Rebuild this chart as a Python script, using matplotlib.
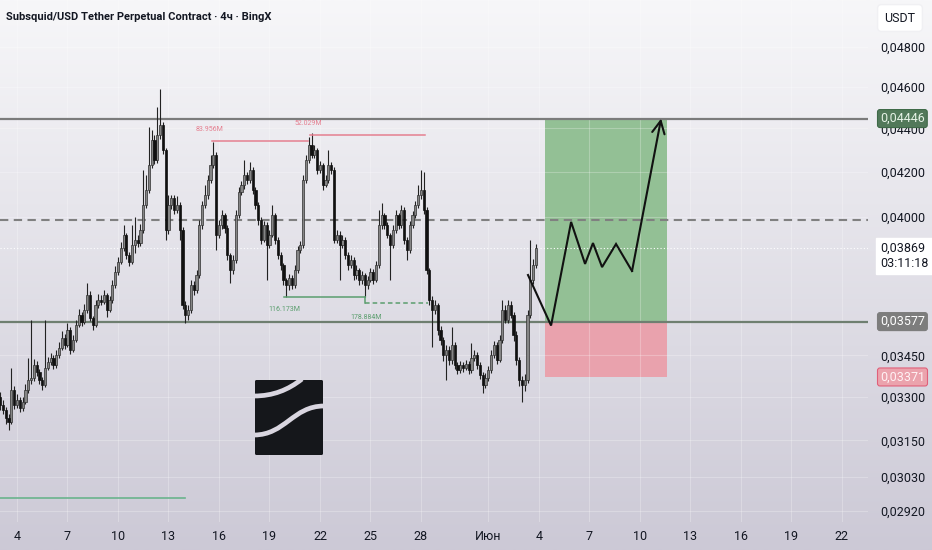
import numpy as np
import pandas as pd
import matplotlib
matplotlib.use("Agg")
import matplotlib.pyplot as plt
import matplotlib.dates as mdates
import matplotlib.transforms as mtransforms
from matplotlib.patches import Rectangle, FancyBboxPatch, PathPatch
from matplotlib.path import Path
from matplotlib.ticker import FixedLocator, FuncFormatter, NullLocator

plt.rcParams['font.family'] = ['Roboto', 'DejaVu Sans']

# --- datos: velas de 4h, precios en 1e-5 USDT ---
start = "2025-05-03 00:00"
first_open = 3300
closes = [
    3272, 3254, 3226, 3212, 3324, 3271, 3289, 3261, 3282, 3324,
    3360, 3367, 3414, 3389, 3360, 3342, 3403, 3425, 3440, 3414,
    3451, 3477, 3515, 3488, 3545, 3470, 3507, 3564, 3602, 3575,
    3622, 3680, 3591, 3564, 3641, 3661, 3653, 3680, 3622, 3661,
    3720, 3772, 3813, 3870, 3925, 3841, 3813, 3883, 3904, 3891,
    3946, 4052, 4118, 4230, 4345, 4253, 4368, 4415, 4299, 3946,
    4052, 4083, 4031, 4052, 3946, 3641, 3602, 3622, 3720, 3700,
    3760, 3967, 4052, 4096, 4163, 4230, 4276, 3925, 3967, 4009,
    3954, 3841, 3780, 3821, 4009, 4109, 4140, 4185, 4163, 4207,
    4118, 4052, 3988, 3904, 3967, 3883, 3925, 4009, 3904, 3841,
    3800, 3740, 3720, 3748, 3720, 3780, 3862, 3883, 4163, 4253,
    4322, 4276, 4299, 4207, 4230, 4140, 4163, 4230, 4207, 3904,
    3925, 3883, 3904, 3841, 3800, 3821, 3760, 3780, 3740, 3760,
    3720, 3740, 3772, 3740, 3800, 3967, 4009, 3967, 3925, 3883,
    3946, 4009, 3967, 4031, 3904, 3862, 3967, 4009, 4052, 4096,
    4118, 4031, 3780, 3661, 3622, 3641, 3545, 3507, 3451, 3470,
    3433, 3488, 3414, 3396, 3414, 3403, 3418, 3396, 3440, 3451,
    3414, 3378, 3342, 3367, 3396, 3451, 3488, 3433, 3507, 3622,
    3583, 3641, 3602, 3526, 3433, 3360, 3342, 3360, 3602, 3740,
    3800, 3869,
]
highs = [
    3318, 3290, 3265, 3240, 3403, 3340, 3310, 3300, 3298, 3345,
    3440, 3583, 3435, 3430, 3400, 3370, 3583, 3445, 3458, 3450,
    3470, 3500, 3540, 3530, 3570, 3555, 3525, 3585, 3625, 3615,
    3645, 3728, 3695, 3600, 3660, 3685, 3680, 3700, 3690, 3675,
    3740, 3795, 3835, 3895, 3967, 3935, 3855, 3967, 4000, 3925,
    3970, 4207, 4185, 4406, 4392, 4368, 4501, 4589, 4430, 4310,
    4096, 4096, 4095, 4090, 4065, 3960, 3655, 3640, 3740, 3735,
    3780, 3990, 4070, 4140, 4185, 4276, 4336, 4290, 3990, 4030,
    4020, 3965, 3850, 3840, 4030, 4130, 4160, 4253, 4200, 4245,
    4220, 4130, 4065, 4000, 3985, 3980, 3945, 4052, 4020, 3915,
    3855, 3810, 3750, 3765, 3760, 3800, 3880, 3900, 4185, 4275,
    4359, 4377, 4320, 4310, 4250, 4240, 4185, 4299, 4245, 4220,
    3945, 3940, 3925, 3915, 3855, 3840, 3835, 3800, 3790, 3775,
    3770, 3755, 3790, 3785, 3815, 4031, 4061, 4020, 3980, 3935,
    3965, 4030, 4020, 4052, 4045, 3915, 3985, 4025, 4070, 4140,
    4207, 4198, 4045, 3790, 3675, 3660, 3650, 3560, 3520, 3488,
    3485, 3556, 3500, 3425, 3430, 3425, 3432, 3430, 3496, 3470,
    3462, 3425, 3390, 3385, 3410, 3470, 3505, 3500, 3525, 3661,
    3640, 3661, 3655, 3615, 3540, 3445, 3375, 3380, 3620, 3904,
    3825, 3885,
]
lows = [
    3255, 3240, 3205, 3185, 3205, 3258, 3260, 3248, 3250, 3275,
    3315, 3345, 3355, 3375, 3345, 3325, 3335, 3395, 3415, 3400,
    3405, 3440, 3468, 3475, 3480, 3455, 3462, 3500, 3555, 3560,
    3568, 3610, 3580, 3545, 3555, 3630, 3640, 3645, 3595, 3615,
    3650, 3710, 3760, 3805, 3860, 3825, 3795, 3805, 3850, 3875,
    3880, 3935, 4040, 4105, 4215, 4235, 4240, 4350, 4280, 3904,
    3930, 4035, 4015, 4020, 3904, 3625, 3572, 3585, 3610, 3680,
    3690, 3750, 3950, 4040, 4080, 4150, 4215, 3862, 3910, 3950,
    3935, 3820, 3728, 3765, 3810, 3995, 4095, 4125, 4145, 4150,
    4100, 4035, 3965, 3885, 3895, 3740, 3870, 3915, 3885, 3825,
    3780, 3720, 3673, 3700, 3705, 3710, 3770, 3850, 3870, 4150,
    4240, 4260, 4260, 4190, 4195, 4118, 4130, 4150, 4190, 3890,
    3890, 3740, 3870, 3825, 3780, 3790, 3740, 3745, 3720, 3725,
    3673, 3705, 3730, 3725, 3730, 3790, 3950, 3950, 3910, 3740,
    3870, 3935, 3950, 3955, 3885, 3821, 3850, 3955, 3995, 4040,
    4080, 4015, 3765, 3640, 3481, 3605, 3525, 3490, 3430, 3360,
    3415, 3420, 3400, 3380, 3385, 3390, 3395, 3382, 3385, 3430,
    3400, 3362, 3313, 3330, 3355, 3385, 3440, 3420, 3425, 3495,
    3570, 3570, 3590, 3505, 3415, 3340, 3282, 3320, 3350, 3590,
    3725, 3790,
]
assert len(closes) == len(highs) == len(lows) == 192

# niveles y herramienta de posición
resistance = 0.04446
mid_level = 0.03990
support = 0.03577
stop_level = 0.03371
last_price = 0.03869
pos_start, pos_end = "2025-06-04 09:00", "2025-06-11 15:00"

# dibujo del escenario (días desde 1 de mayo, precio)
path_days = [33.36, 34.73, 35.92, 36.75, 37.22, 37.76, 38.59, 39.54, 41.27]
path_prices = [0.03760, 0.03562, 0.03980, 0.03805, 0.03891, 0.03792, 0.03887, 0.03776, 0.04446]

# marcas de volumen: (inicio, fin en días, precio) y textos (día, precio, texto)
vol_highs = [(14.59, 20.29, 0.04340), (20.41, 27.24, 0.04368)]
vol_high_labels = [(14.43, 0.04396, "83.956M"), (20.32, 0.04423, "52.029M")]
vol_lows = [(18.86, 23.68, 0.03673), (23.68, 27.42, 0.03649)]
vol_low_labels = [(18.86, 0.03622, "116.173M"), (23.74, 0.03594, "178.884M")]
bottom_line = (1.99, 12.98, 0.02960)

yticks = [0.048, 0.046, 0.044, 0.042, 0.040, 0.0345, 0.033, 0.0315, 0.0303, 0.0292]
xtick_days = [3, 6, 9, 12, 15, 18, 21, 24, 27, 31, 34, 37, 40, 43, 46, 49, 52]
xtick_labels = ["4", "7", "10", "13", "16", "19", "22", "25", "28", "Июн",
                "4", "7", "10", "13", "16", "19", "22"]

# --- preparar ---
scale = 1e-5
c = np.array(closes) * scale
h = np.array(highs) * scale
l = np.array(lows) * scale
o = np.concatenate([[first_open * scale], c[:-1]])
times = pd.date_range(start, periods=len(c), freq="4h")
x = mdates.date2num(times)
base = mdates.date2num(pd.Timestamp("2025-05-01"))

W, H = 932, 550
fig = plt.figure(figsize=(W / 100, H / 100), dpi=100)

# fondo degradado
bg = fig.add_axes([0, 0, 1, 1], zorder=-10)
top = np.array([247, 247, 249]) / 255
bot = np.array([204, 201, 214]) / 255
t = np.linspace(0, 1, 256)[:, None]
grad = top[None, :] * (1 - t) + bot[None, :] * t
bg.imshow(grad[:, None, :], aspect="auto", extent=[0, 1, 0, 1])
bg.axis("off")

ax = fig.add_axes([0, 28 / H, 868 / W, 1 - 28 / H])
ax.set_facecolor("none")
ax.set_yscale("log")
ax.set_ylim(0.02886, 0.05048)
ax.set_xlim(base + 1.99, base + 53.56)
for s in ax.spines.values():
    s.set_visible(False)

ax.grid(True, color="white", alpha=0.25, lw=0.8)

# posición larga
x0, x1 = mdates.date2num(pd.Timestamp(pos_start)), mdates.date2num(pd.Timestamp(pos_end))
ax.add_patch(Rectangle((x0, support), x1 - x0, resistance - support,
                       facecolor="#93c095", edgecolor="none", zorder=1))
ax.add_patch(Rectangle((x0, stop_level), x1 - x0, support - stop_level,
                       facecolor="#e9a2ad", edgecolor="none", zorder=1))

# niveles
ax.axhline(resistance, color="#7b7b7b", lw=1.6, zorder=2)
ax.axhline(support, color="#6f7f71", lw=1.6, zorder=2)
ax.axhline(mid_level, color="#808080", lw=1.5, dashes=(4, 2.6), zorder=2)
ax.axhline(last_price, color="white", lw=0.8, ls=(0, (1, 2)), zorder=2)

# velas
up = c >= o
body_lo = np.minimum(o, c)
body_h = np.maximum(np.abs(c - o), 0.00004)
ax.vlines(x, l, h, color="#222222", lw=0.8, zorder=3)
ax.bar(x[up], body_h[up], bottom=body_lo[up], width=0.13, color="#858585",
       edgecolor="#303030", lw=0.5, zorder=4)
ax.bar(x[~up], body_h[~up], bottom=body_lo[~up], width=0.13, color="#111111",
       edgecolor="#111111", lw=0.5, zorder=4)

# volumen extremos
red = "#e57f90"
for d0, d1, p in vol_highs:
    ax.plot([base + d0, base + d1], [p, p], color=red, lw=1.1, zorder=3)
for d, p, txt in vol_high_labels:
    ax.text(base + d, p, txt, fontsize=5, color=red, ha="center", va="center", zorder=5)
green = "#5b9e6e"
(g0, g1, gp), (k0, k1, kp) = vol_lows
ax.plot([base + g0, base + g1], [gp, gp], color=green, lw=1.1, zorder=3)
ax.plot([base + k0, base + k0], [gp, kp], color=green, lw=1.1, zorder=3)
ax.plot([base + k0, base + k1], [kp, kp], color=green, lw=1.1, ls=(0, (3, 2)), zorder=3)
for d, p, txt in vol_low_labels:
    ax.text(base + d, p, txt, fontsize=5, color=green, ha="center", va="center", zorder=5)
ax.plot([base + bottom_line[0], base + bottom_line[1]], [bottom_line[2]] * 2,
        color="#6ab38d", lw=1.2, zorder=3)

# trayectoria esperada con flecha
px = [base + d for d in path_days]
ax.plot(px[:-1], path_prices[:-1], color="#111111", lw=1.5, zorder=6,
        solid_joinstyle="miter")
ax.annotate("", xy=(px[-1], path_prices[-1]), xytext=(px[-2], path_prices[-2]),
            arrowprops=dict(arrowstyle="->,head_length=0.9,head_width=0.45",
                            color="#111111", lw=1.5, shrinkA=0, shrinkB=0), zorder=6)

# ejes
ax.yaxis.tick_right()
ax.yaxis.set_major_locator(FixedLocator(yticks))
ax.yaxis.set_minor_locator(NullLocator())
ax.yaxis.set_major_formatter(FuncFormatter(lambda v, _: f"{v:.5f}".replace(".", ",")))
ax.yaxis.set_minor_formatter(FuncFormatter(lambda v, _: ""))
ax.tick_params(axis="y", length=0, pad=9, labelsize=9, labelcolor="#131722")
ax.set_xticks([base + d for d in xtick_days])
ax.set_xticklabels(xtick_labels)
ax.tick_params(axis="x", length=0, pad=6, labelsize=9, labelcolor="#131722")

# etiquetas de precio
lab = mtransforms.blended_transform_factory(ax.transAxes, ax.transData)
lx = 880 / 868


def price_tag(p, fc, ec, tc):
    ax.text(lx, p, f"{p:.5f}".replace(".", ","), transform=lab, fontsize=9,
            color=tc, va="center", ha="left", clip_on=False, zorder=10,
            bbox=dict(boxstyle="round,pad=0.2,rounding_size=0.2", fc=fc, ec=ec, lw=0.8))


price_tag(resistance, "#52795a", "#3f6a48", "#e6f2e6")
price_tag(support, "#7d7d7d", "#7d7d7d", "white")
price_tag(stop_level, "#eba3ad", "#e0607a", "#fff2f4")
cur = mtransforms.offset_copy(lab, fig=fig, y=7, units="dots")
ax.text(lx, last_price, "0,03869\n03:11:18", transform=cur, fontsize=9,
        color="#131722", va="top", ha="left", linespacing=1.25, clip_on=False, zorder=10,
        bbox=dict(boxstyle="square,pad=0.3", fc="white", ec="white"))

# título y moneda
fig.text(6 / W, 1 - 17 / H, "Subsquid/USD Tether Perpetual Contract · 4ч · BingX",
         fontsize=8, fontweight="bold", color="#131722", va="center")
fig.text(900 / W, 1 - 18 / H, "USDT", fontsize=9, color="#131722", ha="center",
         va="center", bbox=dict(boxstyle="round,pad=0.55,rounding_size=0.3",
                                fc="white", ec="#f0f0f3"))

# logo
lg = fig.add_axes([255 / W, (H - 455) / H, 68 / W, 75 / H], zorder=5)
lg.set_xlim(0, 68)
lg.set_ylim(75, 0)
lg.axis("off")
lg.add_patch(FancyBboxPatch((0, 0), 68, 75, boxstyle="round,pad=0,rounding_size=1.5",
                            fc="#15171b", ec="none"))
band = "#d9d6e0"
for verts in ([(-1, 16), (18, 16), (33, 10), (47, -1)],
              [(-1, 55), (30, 55), (38, 26), (69, 26)]):
    lg.add_patch(PathPatch(Path(verts, [Path.MOVETO, Path.CURVE4, Path.CURVE4, Path.CURVE4]),
                           fc="none", ec=band, lw=3.4))

fig.savefig("out.png", dpi=100)
